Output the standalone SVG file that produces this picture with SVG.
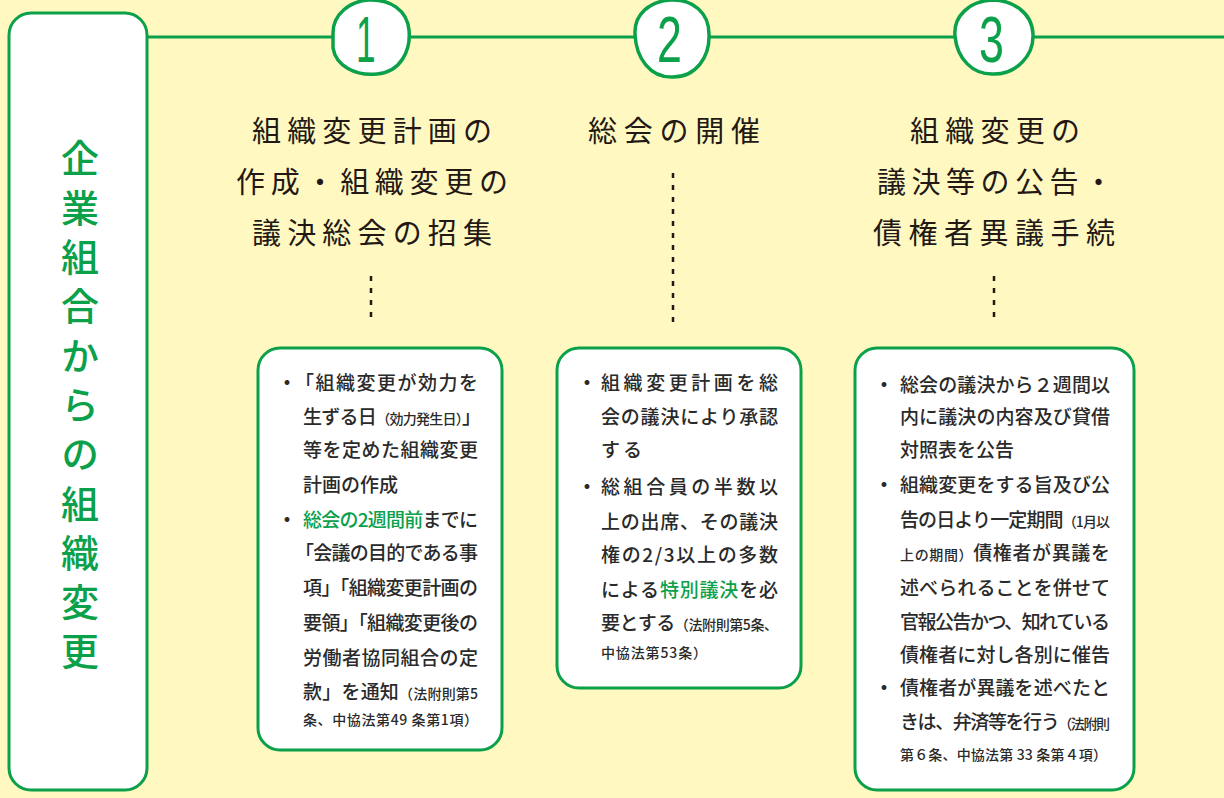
<svg xmlns="http://www.w3.org/2000/svg" width="1224" height="798" viewBox="0 0 1224 798">
<style>
.bg{fill:#FFF9C1}
.frame{fill:#FFFFFF;stroke:#0BA04A;stroke-width:3}
.line{stroke:#0BA04A;stroke-width:3;fill:none}
.dots{stroke:#231815;stroke-width:2.5;stroke-dasharray:5 7;fill:none}
.circ{fill:#FFFFFF;stroke:#0BA04A;stroke-width:3.5}
.num{font-family:"Liberation Sans",sans-serif;font-size:64px;fill:#0BA04A}
.h{font-family:"Noto Sans CJK JP",sans-serif;font-size:29px;fill:#231815;font-weight:400}
.v{font-family:"Noto Sans CJK JP",sans-serif;font-size:38px;fill:#0BA04A;font-weight:500;writing-mode:vertical-rl;letter-spacing:11.3px}
.t{font-family:"Noto Sans CJK JP",sans-serif;font-size:19px;fill:#2a2a2a;font-weight:500}
.b{font-family:"Noto Sans CJK JP",sans-serif;font-size:19px;fill:#2a2a2a;font-weight:700;text-anchor:middle}
.s{font-size:14px}
.g{fill:#0BA04A}
</style>
<rect class="bg" x="0" y="0" width="1224" height="798"/>

<g id="connectors">
  <line class="line" x1="147" y1="37" x2="1224" y2="37"/>
  <line class="dots" x1="371" y1="276" x2="371" y2="322"/>
  <line class="dots" x1="673" y1="173" x2="673" y2="322"/>
  <line class="dots" x1="994" y1="276" x2="994" y2="322"/>
</g>

<g id="node-title">
  <rect class="frame" x="9" y="13" width="138" height="777" rx="22"/>
  <text class="v" x="80" y="139">企業組合からの組織変更</text>
</g>

<g id="step1">
  <path class="circ" d="M333,33 C333,14 350,1 369,0 C390,-1 407,10 409,30 C411,50 401,72 377,74 C355,76 336,66 333,48 Z"/>
  <text class="num" transform="translate(356,62) scale(0.55,1)">1</text>
</g>
<g id="step2">
  <path class="circ" d="M635,34 C634,14 650,1 671,0 C693,-1 709,13 709,34 C710,57 696,77 673,77 C650,78 636,58 635,34 Z"/>
  <text class="num" transform="translate(657,62) scale(0.7,1)">2</text>
</g>
<g id="step3">
  <path class="circ" d="M955,36 C953,16 970,1 992,0 C1012,0 1032,12 1033,34 C1034,56 1016,74 994,74 C972,75 957,58 955,36 Z"/>
  <text class="num" transform="translate(979,62) scale(0.7,1)">3</text>
</g>

<g id="heading1">
  <text class="h" x="252" y="142" textLength="240" lengthAdjust="spacing">組織変更計画の</text>
  <text class="h" x="236" y="193" textLength="272" lengthAdjust="spacing">作成・組織変更の</text>
  <text class="h" x="252" y="244" textLength="240" lengthAdjust="spacing">議決総会の招集</text>
</g>
<g id="heading2">
  <text class="h" x="588" y="142" textLength="172" lengthAdjust="spacing">総会の開催</text>
</g>
<g id="heading3">
  <text class="h" x="910" y="142" textLength="170" lengthAdjust="spacing">組織変更の</text>
  <text class="h" x="877" y="193" textLength="236" lengthAdjust="spacing">議決等の公告・</text>
  <text class="h" x="873" y="244" textLength="242" lengthAdjust="spacing">債権者異議手続</text>
</g>

<g id="box1">
  <rect class="frame" x="258" y="348" width="244" height="402" rx="22"/>
  <text class="b" x="287" y="390">・</text>
  <text class="t" x="295" y="390" textLength="183" lengthAdjust="spacing">「組織変更が効力を</text>
  <text class="t" x="303" y="424" textLength="178" lengthAdjust="spacing">生ずる日<tspan class="s">（効力発生日）</tspan>」</text>
  <text class="t" x="303" y="457" textLength="175" lengthAdjust="spacing">等を定めた組織変更</text>
  <text class="t" x="303" y="492" textLength="95" lengthAdjust="spacing">計画の作成</text>
  <text class="b" x="287" y="527">・</text>
  <text class="t" x="303" y="527" textLength="175" lengthAdjust="spacing"><tspan class="g">総会の2週間前</tspan>までに</text>
  <text class="t" x="295" y="560" textLength="183" lengthAdjust="spacing">「会議の目的である事</text>
  <text class="t" x="303" y="595" textLength="175" lengthAdjust="spacing">項」「組織変更計画の</text>
  <text class="t" x="303" y="630" textLength="175" lengthAdjust="spacing">要領」「組織変更後の</text>
  <text class="t" x="303" y="665" textLength="175" lengthAdjust="spacing">労働者協同組合の定</text>
  <text class="t" x="303" y="699" textLength="175" lengthAdjust="spacing">款」を通知<tspan class="s">（法附則第5</tspan></text>
  <text class="t s" x="303" y="725" textLength="175" lengthAdjust="spacing">条、中協法第49 条第1項）</text>
</g>

<g id="box2">
  <rect class="frame" x="557" y="348" width="244" height="340" rx="22"/>
  <text class="b" x="587" y="390">・</text>
  <text class="t" x="601" y="390" textLength="177" lengthAdjust="spacing">組織変更計画を総</text>
  <text class="t" x="601" y="424" textLength="177" lengthAdjust="spacing">会の議決により承認</text>
  <text class="t" x="601" y="457" letter-spacing="3">する</text>
  <text class="b" x="587" y="494">・</text>
  <text class="t" x="601" y="494" textLength="177" lengthAdjust="spacing">総組合員の半数以</text>
  <text class="t" x="601" y="529" textLength="177" lengthAdjust="spacing">上の出席、その議決</text>
  <text class="t" x="601" y="562" textLength="177" lengthAdjust="spacing">権の2/3以上の多数</text>
  <text class="t" x="601" y="597" textLength="177" lengthAdjust="spacing">による<tspan class="g">特別議決</tspan>を必</text>
  <text class="t" x="601" y="630" textLength="177" lengthAdjust="spacing">要とする<tspan class="s">（法附則第5条、</tspan></text>
  <text class="t s" x="601" y="658" textLength="106" lengthAdjust="spacing">中協法第53条）</text>
</g>

<g id="box3">
  <rect class="frame" x="855" y="348" width="279" height="442" rx="22"/>
  <text class="b" x="884" y="392">・</text>
  <text class="t" x="900" y="392" textLength="210" lengthAdjust="spacing">総会の議決から２週間以</text>
  <text class="t" x="900" y="424" textLength="210" lengthAdjust="spacing">内に議決の内容及び貸借</text>
  <text class="t" x="900" y="457">対照表を公告</text>
  <text class="b" x="884" y="492">・</text>
  <text class="t" x="900" y="492" textLength="210" lengthAdjust="spacing">組織変更をする旨及び公</text>
  <text class="t" x="900" y="527" textLength="210" lengthAdjust="spacing">告の日より一定期間<tspan class="s">（1月以</tspan></text>
  <text class="t" x="900" y="560" textLength="210" lengthAdjust="spacing"><tspan class="s">上の期間）</tspan>債権者が異議を</text>
  <text class="t" x="900" y="595" textLength="210" lengthAdjust="spacing">述べられることを併せて</text>
  <text class="t" x="900" y="629" textLength="210" lengthAdjust="spacing">官報公告かつ、知れている</text>
  <text class="t" x="900" y="662" textLength="210" lengthAdjust="spacing">債権者に対し各別に催告</text>
  <text class="b" x="884" y="695">・</text>
  <text class="t" x="900" y="695" textLength="210" lengthAdjust="spacing">債権者が異議を述べたと</text>
  <text class="t" x="900" y="729" textLength="210" lengthAdjust="spacing">きは、弁済等を行う<tspan class="s">（法附則</tspan></text>
  <text class="t s" x="900" y="760" textLength="207" lengthAdjust="spacing">第６条、中協法第 33 条第４項）</text>
</g>
</svg>
